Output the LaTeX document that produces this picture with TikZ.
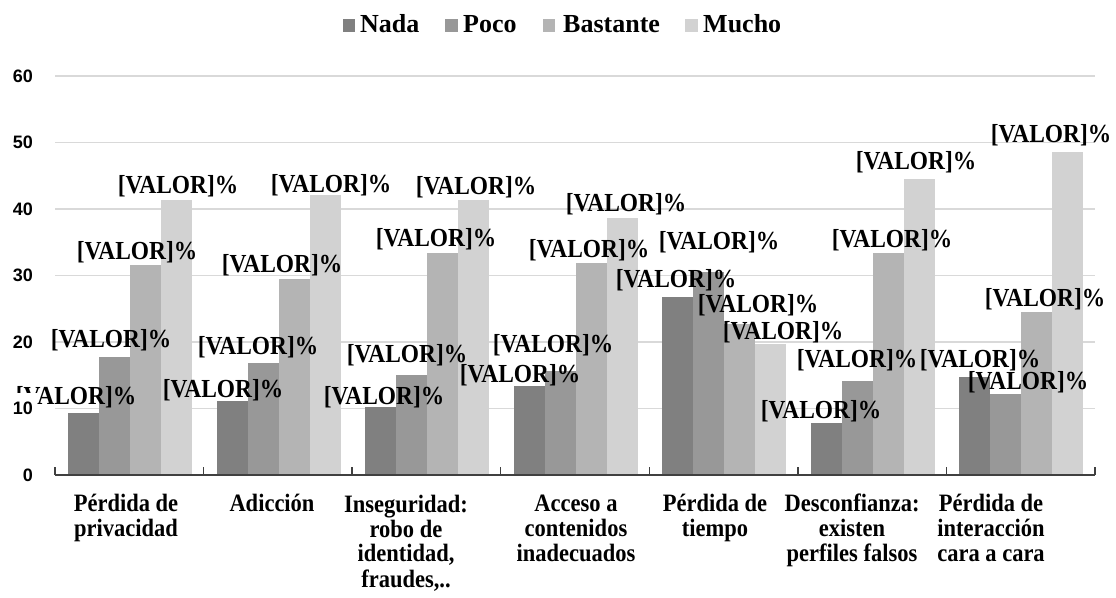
\documentclass[tikz,border=0pt]{standalone}
\usepackage{fontspec}
\setmainfont{Liberation Serif}
\newfontfamily\axisfont{Liberation Sans}
\newfontfamily\narrowfont[FakeStretch=0.9]{Liberation Serif}
\definecolor{cNada}{RGB}{128,128,128}
\definecolor{cPoco}{RGB}{152,152,152}
\definecolor{cBast}{RGB}{180,180,180}
\definecolor{cMucho}{RGB}{210,210,210}
\definecolor{gridgray}{RGB}{217,217,217}
\definecolor{axisgray}{RGB}{64,64,64}
\begin{document}
\begin{tikzpicture}[x=1pt,y=1pt,
  gridline/.style={draw=gridgray,line width=1.2pt},
  axisline/.style={draw=axisgray,line width=1.4pt},
  val/.style={font=\narrowfont\bfseries\fontsize{26}{26}\selectfont,anchor=base,inner sep=0pt},
  leg/.style={font=\bfseries\fontsize{26}{26}\selectfont,anchor=base west,inner sep=0pt},
  cat/.style={font=\narrowfont\bfseries\fontsize{25}{25}\selectfont,anchor=base,align=center,inner sep=0pt},
  ylab/.style={font=\axisfont\bfseries\fontsize{18}{18}\selectfont,anchor=east,fill=white,inner xsep=4pt,inner ysep=9pt}]
\useasboundingbox (0,0) rectangle (1116,597);
\fill[white] (0,0) rectangle (1116,597);
% gridlines
\foreach \v in {10,20,30,40,50,60}
  \draw[gridline] (55,{122+6.65*\v}) -- (1095,{122+6.65*\v});
% bars
\foreach \k/\a/\b/\c/\d in {1/9.3/17.7/31.6/41.4, 2/11.1/16.9/29.5/42.1, 3/10.2/15.0/33.4/41.4, 4/13.4/15.6/31.9/38.7, 5/26.8/30.5/22.7/19.7, 6/7.8/14.1/33.4/44.5, 7/14.7/12.2/24.5/48.6}{
  \pgfmathsetmacro\xl{55+148.57*(\k-1)+13}
  \fill[cNada]  (\xl,122) rectangle ++(31,{6.65*\a});
  \fill[cPoco]  ({\xl+31},122) rectangle ++(31,{6.65*\b});
  \fill[cBast]  ({\xl+62},122) rectangle ++(31,{6.65*\c});
  \fill[cMucho] ({\xl+93},122) rectangle ++(31,{6.65*\d});
}
% axis
\draw[axisline] (55,122) -- (1095,122);
\foreach \i in {0,...,7}
  \draw[axisline] ({55+148.57*\i},122) -- ++(0,8);
% value labels
\foreach \n/\cx/\by in {a1/76/405, a2/111/348, a3/137/260, a4/178/194,
  b1/223/398, b2/258/355, b3/282/273, b4/331/193,
  c1/384/405, c2/407/363, c3/436/247, c4/476/195,
  d1/520/383, d2/553/353, d3/589/258, d4/626/212,
  e1/676/288, e2/719/250, e3/758/313, e4/783/340,
  f1/821/419, f2/857/368, f3/892/248, f4/916/170,
  g1/980/368, g2/1028/390, g3/1045/307, g4/1051/143}
  \node[val] (v\n) at (\cx,{597-\by}) {[VALOR]\%};
% y axis labels
\foreach \v in {0,10,20,30,40,50,60}
  \node[ylab] (y\v) at (37,{122+6.65*\v}) {\v};
% legend
\fill[cNada]  (343,565) rectangle (355,578);
\node[leg] (lNada) at (360,564) {Nada};
\fill[cPoco]  (445,565) rectangle (458,578);
\node[leg] (lPoco) at (463,564) {Poco};
\fill[cBast]  (543,565) rectangle (555,578);
\node[leg] (lBast) at (563,564) {Bastante};
\fill[cMucho] (685,565) rectangle (698,578);
\node[leg] (lMucho) at (703,564) {Mucho};
% category labels (anchor = baseline of last line)
\node[cat] (k1) at (126,60) {Pérdida de\\privacidad};
\node[cat] (k2) at (272,85) {Adicción};
\node[cat] (k3) at (406,10) {Inseguridad:\\robo de\\identidad,\\fraudes,..};
\node[cat] (k4) at (576,35) {Acceso a\\contenidos\\inadecuados};
\node[cat] (k5) at (715,60) {Pérdida de\\tiempo};
\node[cat] (k6) at (852,35) {Desconfianza:\\existen\\perfiles falsos};
\node[cat] (k7) at (991,35) {Pérdida de\\interacción\\cara a cara};
\end{tikzpicture}
\end{document}
